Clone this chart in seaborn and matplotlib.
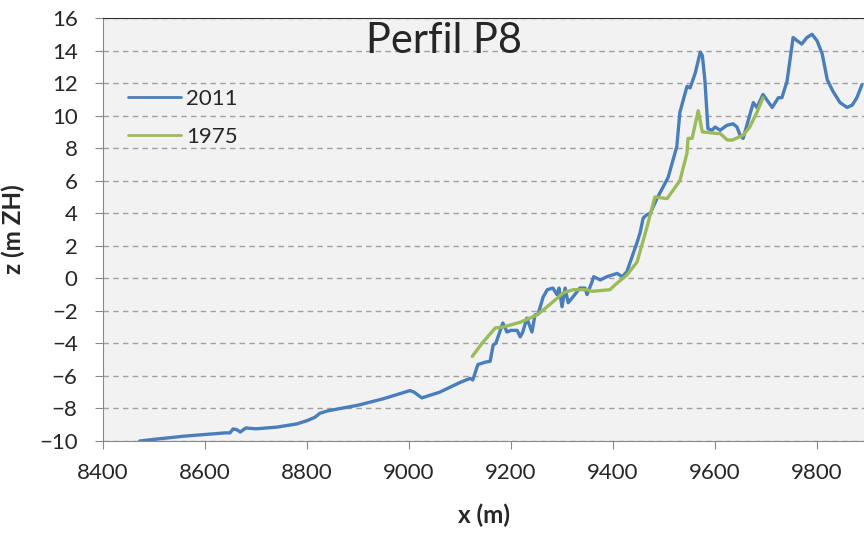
import seaborn as sns
import matplotlib.pyplot as plt
import pandas as pd

# perfil 2011
x_2011 = [8472, 8500, 8530, 8560, 8600, 8640, 8649, 8655, 8662, 8669, 8680, 8700, 8740, 8780,
          8800, 8815, 8825, 8840, 8900, 8950, 9002, 9010, 9025, 9060, 9100, 9120, 9125, 9135,
          9150, 9159, 9165, 9170, 9184, 9192, 9200, 9212, 9218, 9223, 9231, 9241, 9247, 9253,
          9263, 9271, 9282, 9290, 9294, 9300, 9306, 9312, 9320, 9335, 9345, 9349, 9359, 9362,
          9375, 9388, 9408, 9418, 9427, 9437, 9447, 9453, 9459, 9466, 9473, 9486, 9508, 9525,
          9531, 9545, 9551, 9561, 9571, 9575, 9580, 9586, 9594, 9600, 9610, 9623, 9635, 9643,
          9649, 9655, 9665, 9675, 9682, 9694, 9712, 9724, 9731, 9741, 9753, 9761, 9770, 9780,
          9790, 9800, 9810, 9820, 9831, 9845, 9859, 9869, 9878, 9888]
z_2011 = [-10.0, -9.9, -9.8, -9.7, -9.6, -9.5, -9.5, -9.26, -9.3, -9.45, -9.2, -9.25, -9.15, -8.95,
          -8.75, -8.55, -8.3, -8.15, -7.8, -7.4, -6.9, -7.0, -7.35, -7.0, -6.4, -6.15, -6.25, -5.3,
          -5.15, -5.1, -4.1, -4.0, -2.75, -3.3, -3.2, -3.2, -3.6, -3.3, -2.45, -3.3, -2.25, -2.2,
          -1.15, -0.7, -0.6, -1.0, -0.6, -1.75, -0.6, -1.5, -1.2, -0.6, -0.6, -1.0, -0.2, 0.1,
          -0.1, 0.1, 0.3, 0.1, 0.4, 1.3, 2.2, 2.8, 3.7, 3.9, 4.0, 4.9, 6.2, 8.1,
          10.2, 11.8, 11.7, 12.6, 13.9, 13.7, 12.2, 9.2, 9.1, 9.3, 9.1, 9.4, 9.5, 9.3,
          8.8, 8.6, 9.7, 10.8, 10.5, 11.3, 10.5, 11.1, 11.1, 12.1, 14.8, 14.6, 14.4, 14.8,
          15.0, 14.6, 13.8, 12.2, 11.5, 10.8, 10.5, 10.65, 11.1, 11.9]

# perfil 1975
x_1975 = [9124, 9143, 9169, 9184, 9218, 9251, 9263, 9282, 9302, 9322, 9349, 9359, 9394, 9404,
          9427, 9447, 9467, 9482, 9506, 9531, 9545, 9547, 9555, 9567, 9575, 9604, 9610, 9624,
          9634, 9655, 9668, 9682, 9694]
z_1975 = [-4.8, -4.0, -3.05, -3.0, -2.7, -2.25, -1.95, -1.45, -0.9, -0.7, -0.7, -0.8, -0.7, -0.4,
          0.2, 1.0, 3.2, 5.0, 4.9, 6.0, 7.7, 8.6, 8.6, 10.3, 9.0, 8.9, 8.9, 8.5,
          8.5, 8.8, 9.3, 10.2, 11.1]

x_ticks = list(range(8400, 9801, 200))
z_ticks = list(range(-10, 17, 2))

df = pd.concat([
    pd.DataFrame({'x': x_2011, 'z': z_2011, 'ano': '2011'}),
    pd.DataFrame({'x': x_1975, 'z': z_1975, 'ano': '1975'}),
])

sns.set_style('ticks')
plt.rcParams['font.family'] = ['Lato', 'DejaVu Sans']

fig = plt.figure(figsize=(8.64, 5.36), dpi=100)
ax = fig.add_axes([103/864, 1-441/536, 1-103/864, (441-18)/536])
ax.set_facecolor('#F2F2F2')

sns.lineplot(data=df, x='x', y='z', hue='ano', palette={'2011': '#4A7EBB', '1975': '#9BBB59'},
             sort=False, estimator=None, linewidth=2.4, ax=ax)

ax.set_xlim(8400, 9892)
ax.set_ylim(-10, 16)
ax.set_xticks(x_ticks)
ax.set_yticks(z_ticks)
ax.yaxis.grid(True, linestyle=(0, (4, 3)), color='#A0A0A0', linewidth=1)
ax.set_axisbelow(True)

for s in ['left', 'bottom']:
    ax.spines[s].set_color('#888888')
ax.spines['top'].set_color('#333333')
ax.spines['right'].set_visible(False)
ax.tick_params(axis='both', direction='out', length=5.8, color='#888888', labelsize=16)
ax.tick_params(axis='y', pad=12.5)
ax.tick_params(axis='x', pad=10)

ax.set_xlabel('x (m)', fontsize=17.5, fontweight='bold')
ax.set_ylabel('z (m ZH)', fontsize=17.5, fontweight='bold')
ax.xaxis.set_label_coords(0.5, -0.147)
ax.yaxis.set_label_coords(-0.1025, 0.5)

ax.text(0.448, 0.917, 'Perfil P8', transform=ax.transAxes, ha='center', va='baseline', fontsize=30)

leg = ax.legend(loc='upper left', bbox_to_anchor=(0.006, 0.88), frameon=False, fontsize=16,
                handlelength=2.4, handletextpad=0.25, labelspacing=0.82)
for ln in leg.get_lines():
    ln.set_linewidth(2)

fig.savefig('out.png', dpi=100)
